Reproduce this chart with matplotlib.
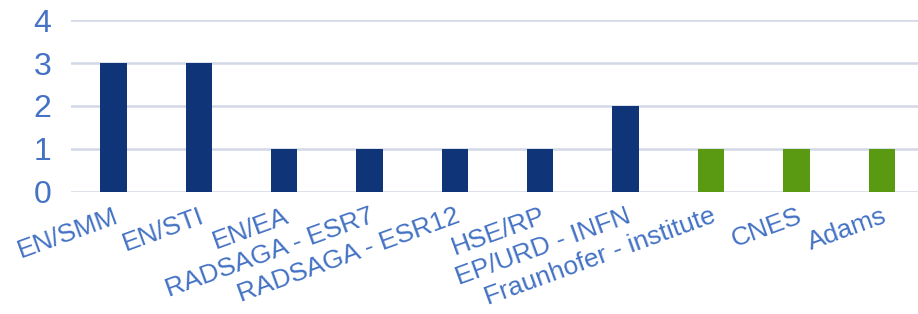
import matplotlib
matplotlib.use("Agg")
import matplotlib.pyplot as plt

categories = ["EN/SMM", "EN/STI", "EN/EA", "RADSAGA - ESR7", "RADSAGA - ESR12",
              "HSE/RP", "EP/URD - INFN", "Fraunhofer - institute", "CNES", "Adams"]
counts = [3, 3, 1, 1, 1, 1, 2, 1, 1, 1]
groups = ["cern"] * 7 + ["external"] * 3

colors = {"cern": "#0F3478", "external": "#5A9A12"}
text_color = "#4472C4"

plt.rcParams["font.family"] = ["Liberation Sans", "DejaVu Sans"]

fig = plt.figure(figsize=(9.18, 3.14), dpi=100)
ax = fig.add_axes([0.077, 0.39, 0.93, 0.545])

xs = list(range(len(categories)))
ax.bar(xs, counts, width=0.31, color=[colors[g] for g in groups], zorder=3)

ax.set_ylim(0, 4)
ax.set_yticks([0, 1, 2, 3, 4])
ax.set_xlim(-0.5, 9.5)
ax.yaxis.grid(True, color="#D3D8E6", linewidth=1.8, zorder=0)
for s in ax.spines.values():
    s.set_visible(False)
ax.tick_params(axis="both", length=0)
ax.tick_params(axis="y", labelsize=23, labelcolor=text_color, pad=14)

ax.set_xticks(xs)
ax.set_xticklabels(categories, rotation=20, ha="right", rotation_mode="anchor",
                   fontsize=19, color=text_color)
ax.tick_params(axis="x", pad=9)

fig.savefig("out.png", dpi=100)
